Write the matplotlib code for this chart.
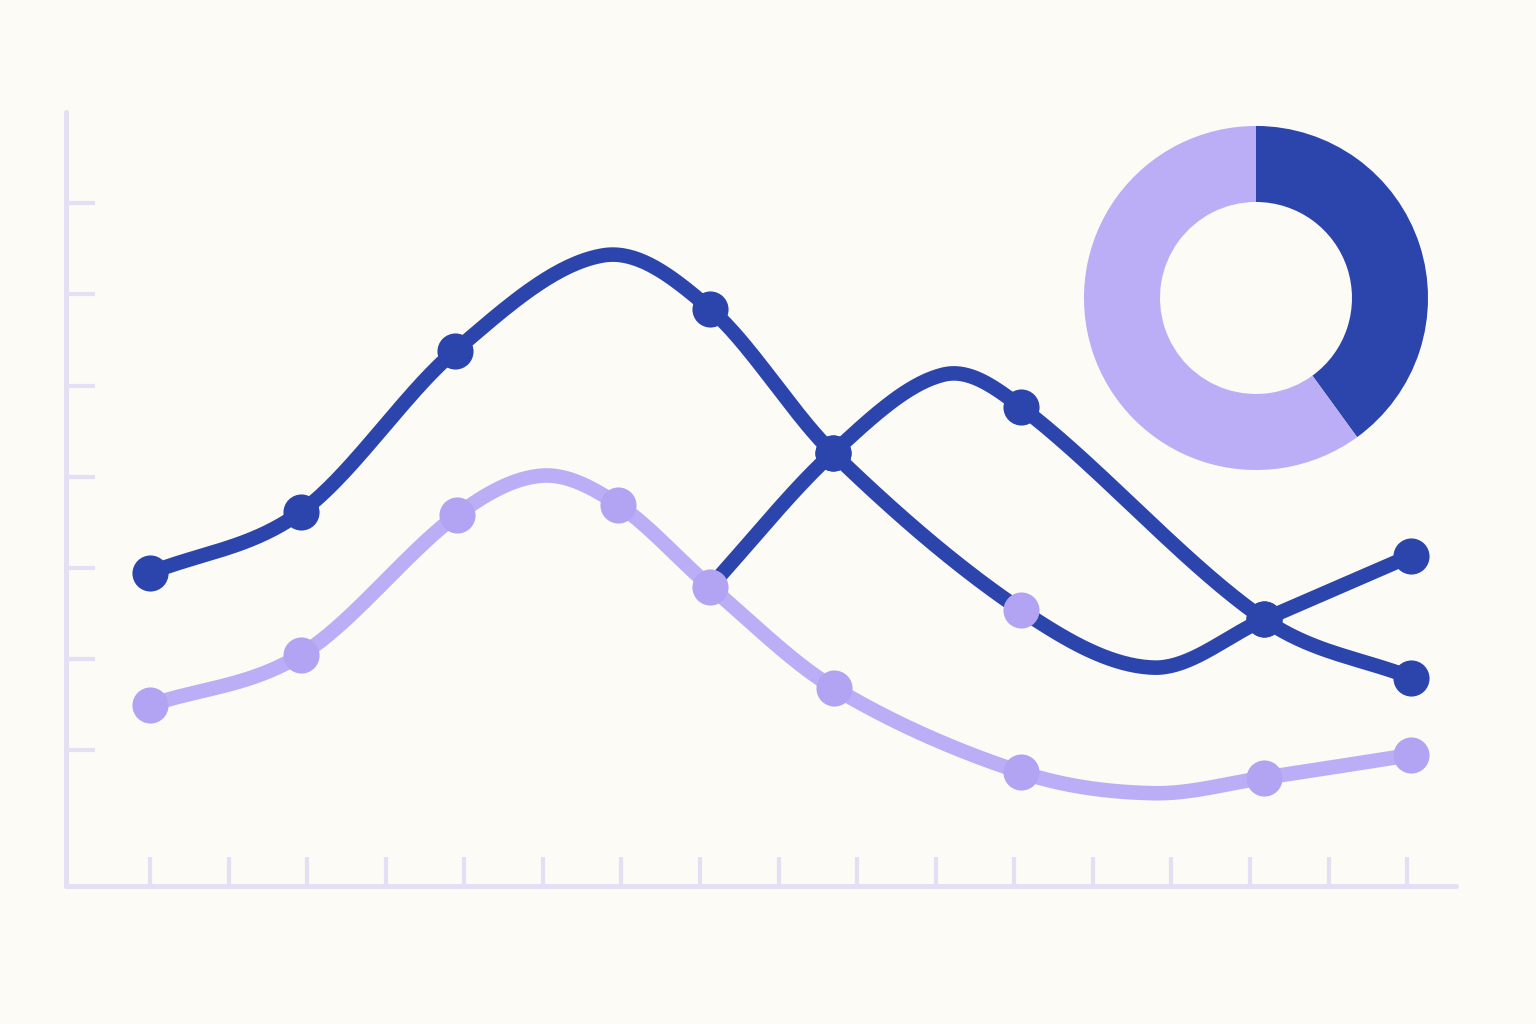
import numpy as np
import matplotlib
matplotlib.use("Agg")
import matplotlib.pyplot as plt

BG = "#FDFBF5"
AXIS_COLOR = "#E3E0F3"
DARK = "#2C45AD"
LIGHT = "#BCAEF6"
LIGHT_MARK = "#B3A4F3"

# series A (dark, big first hump) - vertices
a_x = [0.0, 1.92, 3.88, 5.77, 7.13, 8.69, 11.09, 12.77, 14.18, 16.05]
a_y = [34.4, 41.1, 58.8, 69.3, 63.4, 47.6, 30.3, 24.0, 29.3, 36.3]
a_marks = [0, 1, 2, 4, 5, 8, 9]
a_light_marks = [6]          # one light dot sits on the dark line

# series B (dark, second hump, starts on the light line)
b_x = [7.13, 8.69, 10.10, 11.09, 14.18, 16.05]
b_y = [32.9, 47.6, 56.2, 52.6, 29.3, 22.9]
b_marks = [1, 3, 4, 5]

# series C (light)
c_x = [0.0, 1.92, 3.91, 5.0, 5.96, 7.13, 8.70, 11.09, 12.77, 14.18, 16.05]
c_y = [19.9, 25.4, 40.8, 45.1, 41.9, 32.9, 21.8, 12.5, 10.2, 11.9, 14.4]
c_marks = [0, 1, 2, 4, 5, 6, 7, 9, 10]

x_ticks = list(range(17))
y_ticks = [15, 25, 35, 45, 55, 65, 75]

donut_values = [40, 60]


def smooth(x, y, n=40):
    # cubic hermite in x, slopes from neighbouring vertices
    x = np.asarray(x, float)
    y = np.asarray(y, float)
    m = np.zeros_like(y)
    m[1:-1] = (y[2:] - y[:-2]) / (x[2:] - x[:-2])
    m[0] = (y[1] - y[0]) / (x[1] - x[0])
    m[-1] = (y[-1] - y[-2]) / (x[-1] - x[-2])
    t = np.linspace(0, 1, n)
    xs, ys = [], []
    for i in range(len(x) - 1):
        h = x[i + 1] - x[i]
        h00 = 2 * t**3 - 3 * t**2 + 1
        h10 = t**3 - 2 * t**2 + t
        h01 = -2 * t**3 + 3 * t**2
        h11 = t**3 - t**2
        seg_y = h00 * y[i] + h10 * h * m[i] + h01 * y[i + 1] + h11 * h * m[i + 1]
        seg_x = x[i] + t * h
        start = 0 if i == 0 else 1
        xs.append(seg_x[start:])
        ys.append(seg_y[start:])
    return np.concatenate(xs), np.concatenate(ys)


fig = plt.figure(figsize=(15.36, 10.24), dpi=100, facecolor=BG)
ax = fig.add_axes([0, 0, 1, 1], facecolor=BG)
ax.set_xlim(-1.909, 17.64)
ax.set_ylim(-15.16, 97.36)

# axes: only left and bottom spines, pushed into the data area
for s in ["top", "right"]:
    ax.spines[s].set_visible(False)
ax.spines["left"].set_position(("data", -1.07))
ax.spines["left"].set_bounds(0, 85)
ax.spines["bottom"].set_position(("data", 0))
ax.spines["bottom"].set_bounds(-1.07, 16.62)
for s in ["left", "bottom"]:
    ax.spines[s].set_color(AXIS_COLOR)
    ax.spines[s].set_linewidth(3.6)
    ax.spines[s].set_capstyle("round")
ax.set_xticks(x_ticks)
ax.set_yticks(y_ticks)
ax.tick_params(direction="in", length=21, width=3.0, color=AXIS_COLOR,
               labelbottom=False, labelleft=False)

lw = 10.5
ms = 26

# light line first, dark lines on top, light dots on top of everything
sx, sy = smooth(c_x, c_y)
ax.plot(sx, sy, color=LIGHT, lw=lw, solid_capstyle="round", zorder=2)

sx, sy = smooth(a_x, a_y)
ax.plot(sx, sy, color=DARK, lw=lw, solid_capstyle="round", zorder=3)
ax.plot([a_x[i] for i in a_marks], [a_y[i] for i in a_marks], "o",
        color=DARK, ms=ms, mew=0, zorder=4)

sx, sy = smooth(b_x, b_y)
ax.plot(sx, sy, color=DARK, lw=lw, solid_capstyle="round", zorder=3)
ax.plot([b_x[i] for i in b_marks], [b_y[i] for i in b_marks], "o",
        color=DARK, ms=ms, mew=0, zorder=4)

ax.plot([c_x[i] for i in c_marks], [c_y[i] for i in c_marks], "o",
        color=LIGHT_MARK, ms=ms, mew=0, zorder=5)
ax.plot([a_x[i] for i in a_light_marks], [a_y[i] for i in a_light_marks], "o",
        color=LIGHT_MARK, ms=ms, mew=0, zorder=5)

# donut in the top right corner
dax = fig.add_axes([0.7057, 0.541, 0.224, 0.336])
dax.pie(donut_values, colors=[DARK, LIGHT], startangle=90, counterclock=False,
        radius=1.0, wedgeprops=dict(width=0.442, linewidth=0))
dax.set_aspect("equal")
dax.set_xlim(-1, 1)
dax.set_ylim(-1, 1)
dax.axis("off")

fig.savefig("out.png", dpi=100, facecolor=BG)
